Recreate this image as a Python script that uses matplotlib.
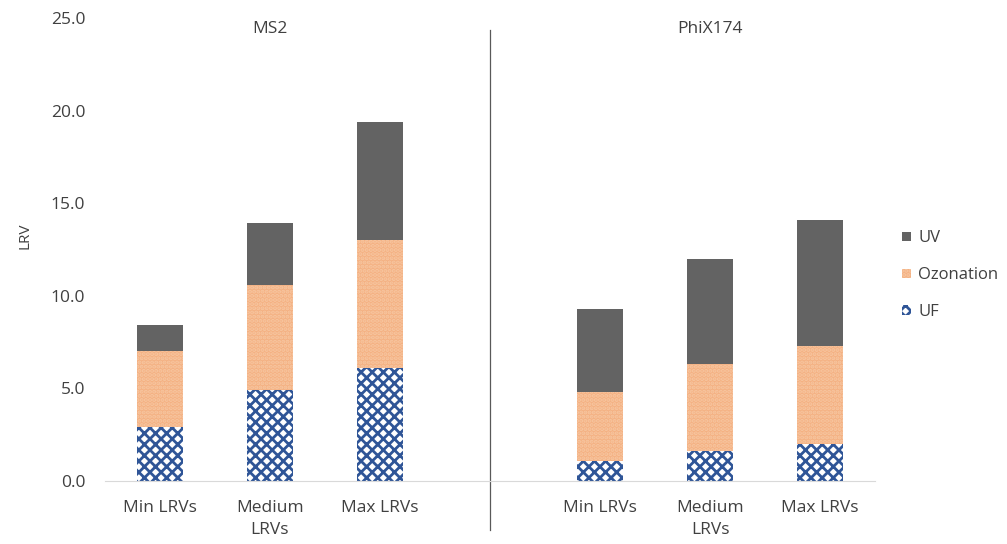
import numpy as np
import matplotlib.pyplot as plt
from matplotlib.patches import Patch

# ---- data ----
categories = ['Min LRVs', 'Medium\nLRVs', 'Max LRVs']
groups = ['MS2', 'PhiX174']
uf_ms2 = [2.9, 4.9, 6.1]
ozone_ms2 = [4.1, 5.7, 6.9]
uv_ms2 = [1.4, 3.3, 6.4]
uf_phix = [1.1, 1.6, 2.0]
ozone_phix = [3.7, 4.7, 5.3]
uv_phix = [4.5, 5.7, 6.8]

plt.rcParams['font.family'] = ['Open Sans', 'DejaVu Sans']
plt.rcParams['hatch.linewidth'] = 2.0

uf = np.array(uf_ms2 + uf_phix)
oz = np.array(ozone_ms2 + ozone_phix)
uv = np.array(uv_ms2 + uv_phix)
x = np.array([0, 1, 2, 4, 5, 6])

fig = plt.figure(figsize=(10.07, 5.44), dpi=100)
ax = fig.add_axes([0.104, 0.116, 0.765, 0.851])

w = 0.42
blue = '#2F5597'
orange = '#F4B183'
grey = '#636363'
txt = '#404040'
fs = 12.5

ax.bar(x, uf, w, color='white', edgecolor=blue, hatch='xxx', linewidth=0)
ax.bar(x, oz, w, bottom=uf, color=orange, edgecolor='#F7C6A0', hatch='....', linewidth=0)
ax.bar(x, uv, w, bottom=uf + oz, color=grey, linewidth=0)

ax.set_xlim(-0.5, 6.5)
ax.set_ylim(0, 25)
yt = np.arange(0, 25.1, 5)
ax.set_yticks(yt)
ax.set_yticklabels([f'{v:.1f}' for v in yt])
ax.set_xticks(x)
ax.set_xticklabels(categories * 2, linespacing=1.45)
ax.tick_params(axis='both', length=0, labelsize=fs, colors=txt)
ax.tick_params(axis='x', pad=14)
ax.tick_params(axis='y', pad=14)
for s in ['top', 'right', 'left']:
    ax.spines[s].set_visible(False)
ax.spines['bottom'].set_color('#D9D9D9')
ax.set_ylabel('LRV', fontsize=11, color=txt)
ax.yaxis.set_label_coords(-0.094, 0.53)

# divider between groups
ax.axvline(3, ymin=-0.106, ymax=0.974, color='#595959', lw=0.9, clip_on=False)
ax.text(1, 24.4, groups[0], ha='center', va='center', fontsize=fs, color=txt)
ax.text(5, 24.4, groups[1], ha='center', va='center', fontsize=fs, color=txt)

handles = [Patch(facecolor=grey, label='UV'),
           Patch(facecolor=orange, edgecolor='#F7C6A0', hatch='....', lw=0, label='Ozonation'),
           Patch(facecolor='white', edgecolor=blue, hatch='xxx', lw=0, label='UF')]
fig.legend(handles=handles, loc='center left', bbox_to_anchor=(0.896, 0.494),
           frameon=False, fontsize=12, handlelength=0.5, handleheight=0.5,
           handletextpad=0.45, labelspacing=1.25, borderpad=0, borderaxespad=0,
           labelcolor=txt)

fig.savefig('out.png', dpi=100)
